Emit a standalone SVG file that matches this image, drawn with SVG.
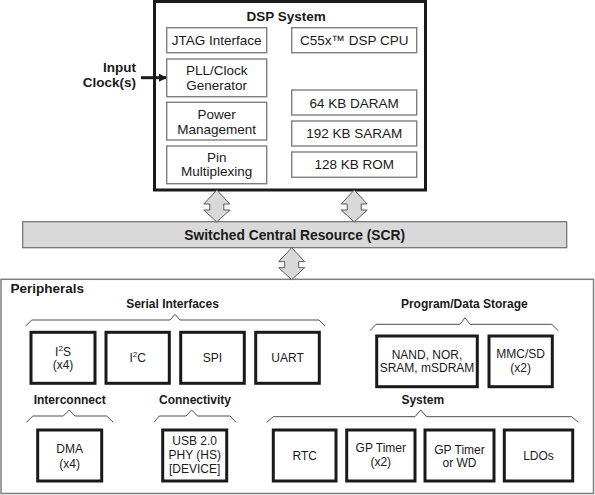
<svg xmlns="http://www.w3.org/2000/svg" width="595" height="495" viewBox="0 0 595 495">
<defs>
<style>
text{font-family:"Liberation Sans",Arial,sans-serif;fill:#1a1a1a;text-anchor:middle}
.b{font-weight:bold}
.t135{font-size:13.5px}
.t12{font-size:12px}
.sub{fill:#fff;stroke:#7f7f7f;stroke-width:1.4}
.pb{fill:#fff;stroke:#1a1a1a;stroke-width:3}
.brace{fill:none;stroke:#4d4d4d;stroke-width:1}
.dbl{fill:#d9d9d9;stroke:#595959;stroke-width:1}
</style>
<path id="dblarrow" d="M0,0 L13,14 L7,14 L7,20 L13,20 L0,32 L-13,20 L-7,20 L-7,14 L-13,14 Z"/>
<marker id="ah" markerWidth="8" markerHeight="8" refX="7" refY="4" orient="auto" markerUnits="userSpaceOnUse">
<path d="M0,0 L8,4 L0,8 Z" fill="#1a1a1a"/>
</marker>
</defs>
<rect width="595" height="495" fill="#fff"/>

<g id="dsp-system">
<rect x="154.5" y="1.5" width="271" height="188.5" fill="#fff" stroke="#1a1a1a" stroke-width="3"/>
<text class="b t135" x="286.2" y="21">DSP System</text>
</g>
<g id="jtag"><rect class="sub" x="166.7" y="27.7" width="100" height="25"/><text class="t135" x="216.7" y="44.8">JTAG Interface</text></g>
<g id="pll"><rect class="sub" x="166.7" y="59" width="100" height="37.7"/><text class="t135" x="216.7" y="74.5">PLL/Clock</text><text class="t135" x="216.7" y="89.5">Generator</text></g>
<g id="power"><rect class="sub" x="166.7" y="102.3" width="100" height="37.7"/><text class="t135" x="216.7" y="119">Power</text><text class="t135" x="216.7" y="133.5">Management</text></g>
<g id="pin"><rect class="sub" x="166.7" y="146" width="100" height="37.7"/><text class="t135" x="216.7" y="161.5">Pin</text><text class="t135" x="216.7" y="176">Multiplexing</text></g>
<g id="cpu"><rect class="sub" x="291.7" y="27.7" width="125" height="25"/><text class="t135" x="354.2" y="44.8">C55x™ DSP CPU</text></g>
<g id="daram"><rect class="sub" x="291.7" y="90" width="125" height="25"/><text class="t135" x="354.2" y="107.5">64 KB DARAM</text></g>
<g id="saram"><rect class="sub" x="291.7" y="121" width="125" height="25"/><text class="t135" x="354.2" y="138.2">192 KB SARAM</text></g>
<g id="rom"><rect class="sub" x="291.7" y="152" width="125" height="25.3"/><text class="t135" x="354.2" y="169">128 KB ROM</text></g>

<g id="input-clock">
<text class="b t135" x="136" y="72" style="text-anchor:end">Input</text>
<text class="b t135" x="136" y="87" style="text-anchor:end">Clock(s)</text>
</g>

<g id="scr">
<rect x="22.7" y="221.7" width="544" height="26" fill="#d9d9d9" stroke="#6e6e6e" stroke-width="1.2"/>
<text class="b" x="294.7" y="239.8" style="font-size:13.8px">Switched Central Resource (SCR)</text>
</g>

<g id="peripherals">
<rect x="1" y="279.3" width="592.5" height="214.2" fill="#fff" stroke="#7f7f7f" stroke-width="1.5"/>
<text class="b t135" x="10.5" y="293" style="text-anchor:start">Peripherals</text>
</g>

<g id="serial-interfaces">
<text class="b t12" x="172.5" y="308.3">Serial Interfaces</text>
<path class="brace" d="M25.7,326 L31.7,320 L170,320 L175,314.3 L180,320 L319,320 L325,326"/>
</g>
<g id="i2s"><rect class="pb" x="31" y="332.3" width="64" height="51"/><text class="t12" x="63" y="356">I<tspan dy="-5" style="font-size:8px">2</tspan><tspan dy="5">S</tspan></text><text class="t12" x="63" y="368.5">(x4)</text></g>
<g id="i2c"><rect class="pb" x="106" y="332.3" width="63.3" height="51"/><text class="t12" x="137.7" y="362.3">I<tspan dy="-5" style="font-size:8px">2</tspan><tspan dy="5">C</tspan></text></g>
<g id="spi"><rect class="pb" x="180.7" y="332.3" width="63.6" height="51"/><text class="t12" x="212.5" y="362.3">SPI</text></g>
<g id="uart"><rect class="pb" x="255.7" y="332.3" width="63.6" height="51"/><text class="t12" x="287.5" y="362.3">UART</text></g>

<g id="program-data-storage">
<text class="b t12" x="464.3" y="308.3">Program/Data Storage</text>
<path class="brace" d="M370,330.7 L376,324.3 L460,324.3 L465,317.7 L470,324.3 L551.7,324.3 L558.3,330.7"/>
</g>
<g id="nand"><rect class="pb" x="376.7" y="336" width="100.6" height="50.7"/><text class="t12" x="427" y="358.6">NAND, NOR,</text><text class="t12" x="427" y="371.6">SRAM, mSDRAM</text></g>
<g id="mmc"><rect class="pb" x="489" y="336" width="63.3" height="50.7"/><text class="t12" x="520.7" y="358.4">MMC/SD</text><text class="t12" x="520.7" y="371.6">(x2)</text></g>

<g id="interconnect">
<text class="b t12" x="69.7" y="404.3">Interconnect</text>
<path class="brace" d="M26.7,422.3 L32.7,416 L63.3,416 L69.3,410 L75,416 L106.7,416 L113.3,422.3"/>
</g>
<g id="dma"><rect class="pb" x="37.7" y="430" width="64" height="51"/><text class="t12" x="69.7" y="453.3">DMA</text><text class="t12" x="69.7" y="467.6">(x4)</text></g>

<g id="connectivity">
<text class="b t12" x="195" y="404.3">Connectivity</text>
<path class="brace" d="M154,422.3 L159.3,416 L186,416 L191.7,410 L197.5,416 L230,416 L236,422.3"/>
</g>
<g id="usb"><rect class="pb" x="162.7" y="430" width="64" height="51"/><text class="t12" x="194.7" y="445.3">USB 2.0</text><text class="t12" x="194.7" y="459.3">PHY (HS)</text><text class="t12" x="194.7" y="473.3">[DEVICE]</text></g>

<g id="system">
<text class="b t12" x="422.8" y="404.3">System</text>
<path class="brace" d="M266.7,422.3 L273.3,416.7 L415,416.7 L420.7,410 L426.5,416.7 L571.7,416.7 L578.3,422.3"/>
</g>
<g id="rtc"><rect class="pb" x="273.3" y="430" width="62.7" height="51"/><text class="t12" x="304.7" y="460.3">RTC</text></g>
<g id="gptimer"><rect class="pb" x="346.7" y="430" width="68.3" height="51"/><text class="t12" x="380.8" y="452.4">GP Timer</text><text class="t12" x="380.8" y="465.6">(x2)</text></g>
<g id="gptimer-wd"><rect class="pb" x="425" y="430" width="69" height="51"/><text class="t12" x="459.5" y="453.8">GP Timer</text><text class="t12" x="459.5" y="467">or WD</text></g>
<g id="ldos"><rect class="pb" x="504.3" y="430" width="68.4" height="51"/><text class="t12" x="538.5" y="460.3">LDOs</text></g>

<g id="connectors">
<line x1="141" y1="77.7" x2="166" y2="77.7" stroke="#1a1a1a" stroke-width="3" marker-end="url(#ah)"/>
<use href="#dblarrow" class="dbl" transform="translate(216.8,190)"/>
<use href="#dblarrow" class="dbl" transform="translate(354.2,190)"/>
<use href="#dblarrow" class="dbl" transform="translate(291.7,247.7)"/>
</g>
</svg>
